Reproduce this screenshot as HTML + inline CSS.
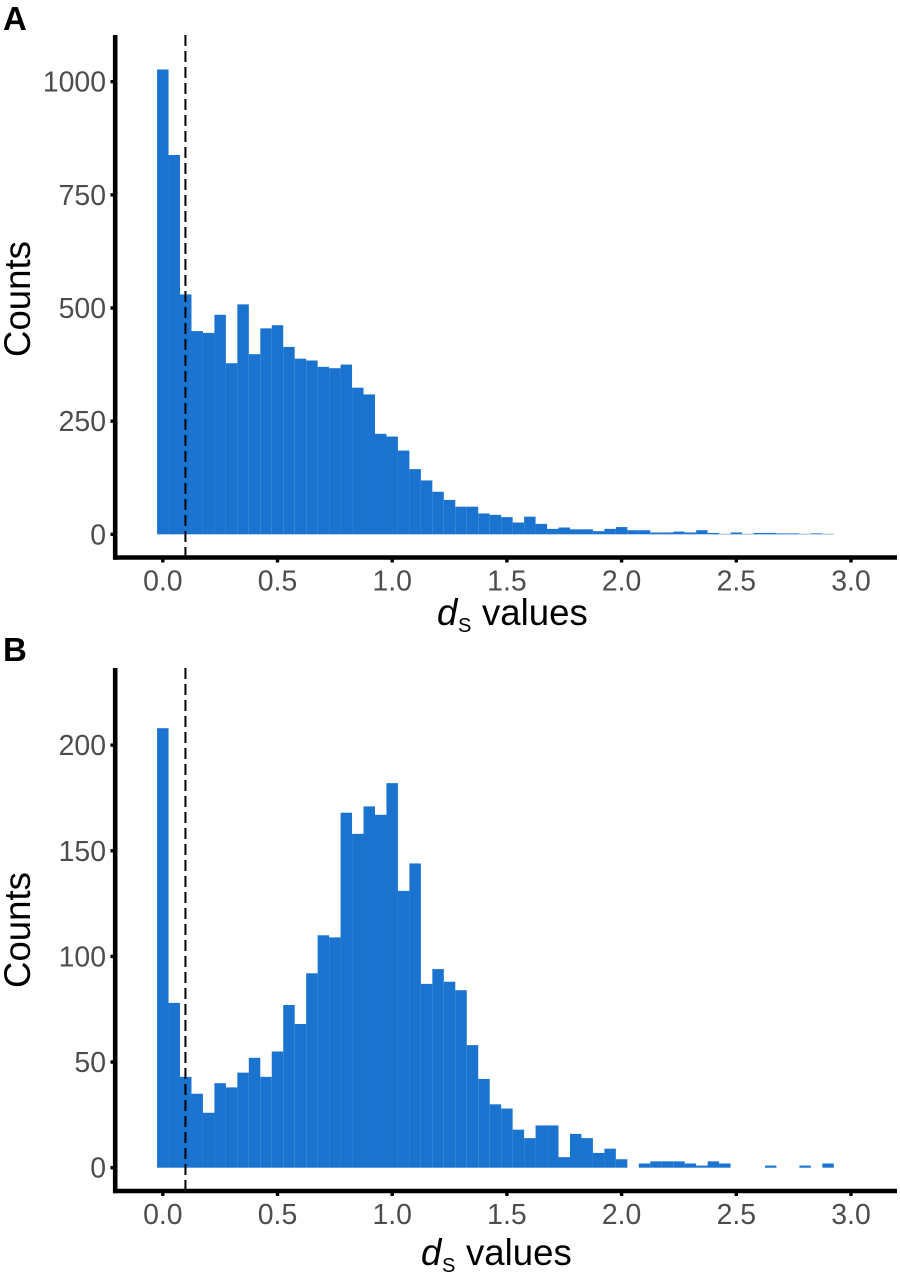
<!DOCTYPE html>
<html lang="en">
<head>
<meta charset="utf-8">
<title>Histograms of dS values</title>
<style>
html,body{margin:0;padding:0;background:#fff;}
svg{display:block;font-family:"Liberation Sans",Arial,sans-serif;}
.tick-label{font-size:28.4px;fill:#4d4d4d;}
.axis-title{font-size:36.6px;fill:#000;}
.panel-label{font-size:33px;font-weight:bold;fill:#000;}
</style>
</head>
<body>
<svg id="chart" xmlns="http://www.w3.org/2000/svg" width="900" height="1280" viewBox="0 0 900 1280"></svg>
<script>
// Panel A: counts per 0.05-wide bin
const countsA = [1027,838,530,449,445,485,378,508,398,455,462,414,388,384,370,367,375,324,309,222,216,185,144,119,94,76,61,61,46,43,38,26,39,23,12,15,11,11,7,12,16,9,9,4,4,6,4,9,3,1,4,1,3,3,2,2,1,2,1];
// Panel B: counts per 0.05-wide bin
const countsB = [208,78,43,35,26,40,38,45,52,43,55,77,68,92,110,109,168,158,171,167,182,131,144,87,94,88,84,58,42,30,28,18,14,20,20,5,16,14,7,9,4,0,2,3,3,3,2,1,3,2,0,0,0,1,0,0,1,0,2];
const binWidth = 0.05;
const firstBinCentre = 0;
const thresholdValue = 0.1;
const xTicks = [0,0.5,1,1.5,2,2.5,3];
const xTickLabels = ["0.0","0.5","1.0","1.5","2.0","2.5","3.0"];
const yTicksA = [0,250,500,750,1000];
const yTicksB = [0,50,100,150,200];

const svgNS = "http://www.w3.org/2000/svg";
const root = document.getElementById("chart");
const xScale = v => 162.8 + v * 229.4;

function makeEl(tag, attrs, parent){
  const el = document.createElementNS(svgNS, tag);
  for (const k in attrs) el.setAttribute(k, attrs[k]);
  parent.appendChild(el);
  return el;
}

function drawPanel(cfg){
  const g = makeEl("g", {}, root);
  
  
  const yScale = v => cfg.y0 - v * cfg.pxPerUnit;

  cfg.counts.forEach((c, i) => {
    if (c <= 0) return;
    const left = xScale(firstBinCentre + (i - 0.5) * binWidth);
    const right = xScale(firstBinCentre + (i + 0.5) * binWidth);
    const r = makeEl("rect", {x:left, y:yScale(c), width:right-left, height:yScale(0)-yScale(c), fill:"#1a73cf"}, g);
    
    
  });

  const thresh = makeEl("line", {x1:xScale(thresholdValue)-0.3, x2:xScale(thresholdValue)-0.3, y1:cfg.top, y2:cfg.axisY, stroke:"#000", "stroke-width":2, "stroke-dasharray":"11 5"}, g);
  
  

  const yAxis = makeEl("line", {x1:115.2, x2:115.2, y1:cfg.top, y2:cfg.axisY+2.2, stroke:"#000", "stroke-width":4.6}, g);
  
  
  const xAxis = makeEl("line", {x1:113, x2:897, y1:cfg.axisY, y2:cfg.axisY, stroke:"#000", "stroke-width":4.4}, g);
  
  

  cfg.yTicks.forEach(t => {
    const y = yScale(t);
    const m = makeEl("line", {x1:110.5, x2:114, y1:y, y2:y, stroke:"#000", "stroke-width":3.4}, g);
    
    
    const l = makeEl("text", {x:106, y:y+10, "text-anchor":"end", class:"tick-label"}, g);
    l.textContent = String(t);
    
    
  });

  xTicks.forEach((t, i) => {
    const x = xScale(t);
    const m = makeEl("line", {x1:x, x2:x, y1:cfg.axisY, y2:cfg.axisY+5, stroke:"#000", "stroke-width":3.4}, g);
    
    
    const l = makeEl("text", {x:x, y:cfg.axisY+33, "text-anchor":"middle", class:"tick-label"}, g);
    l.textContent = xTickLabels[i];
    
    
  });

  const yt = makeEl("text", {transform:"translate(30 "+cfg.yTitleY+") rotate(-90)", "text-anchor":"middle", class:"axis-title"}, g);
  yt.textContent = "Counts";
  
  

  const xt = makeEl("text", {x:cfg.xTitleX, y:cfg.xTitleY, class:"axis-title"}, g);
  
  
  const d = makeEl("tspan", {"font-style":"italic"}, xt);
  d.textContent = "d";
  const s = makeEl("tspan", {x:cfg.xTitleX+21, dy:7, "font-size":"20px"}, xt);
  s.textContent = "S";
  const v = makeEl("tspan", {x:cfg.xTitleX+45, dy:-7}, xt);
  v.textContent = "values";

  const p = makeEl("text", {x:3, y:cfg.labelY, class:"panel-label"}, g);
  p.textContent = cfg.label;
  
  
}

drawPanel({id:"a", label:"A", counts:countsA, yTicks:yTicksA, y0:534.3, pxPerUnit:0.4526, top:35, axisY:557.5, yTitleY:299, xTitleX:437, xTitleY:625, labelY:30});
drawPanel({id:"b", label:"B", counts:countsB, yTicks:yTicksB, y0:1167.7, pxPerUnit:2.113, top:668, axisY:1191, yTitleY:930, xTitleX:421, xTitleY:1265, labelY:661});
</script>
</body>
</html>
